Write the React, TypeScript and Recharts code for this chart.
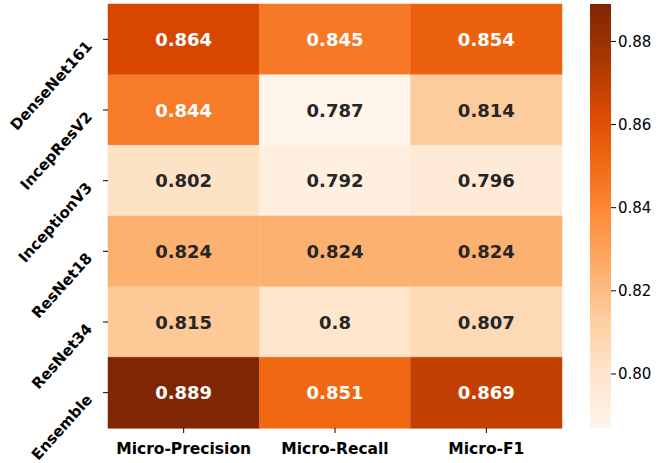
import { BarChart, Bar, XAxis, YAxis, Cell, LabelList } from "recharts";

const models = ["DenseNet161", "IncepResV2", "InceptionV3", "ResNet18", "ResNet34", "Ensemble"];
const metrics = ["Micro-Precision", "Micro-Recall", "Micro-F1"];
const precision = [0.864, 0.844, 0.802, 0.824, 0.815, 0.889];
const recall = [0.845, 0.787, 0.792, 0.824, 0.8, 0.851];
const f1 = [0.854, 0.814, 0.796, 0.824, 0.807, 0.869];
const colorbarTicks = [0.8, 0.82, 0.84, 0.86, 0.88];

// matplotlib "Oranges"
const ORANGES = ["#fff5eb", "#fee6ce", "#fdd0a2", "#fdae6b", "#fd8d3c", "#f16913", "#d94801", "#a63603", "#7f2704"];
const FONT = "DejaVu Sans";

const allValues = [...precision, ...recall, ...f1];
const vmin = Math.min(...allValues);
const vmax = Math.max(...allValues);

const hexToRgb = (h: string) => [1, 3, 5].map((i) => parseInt(h.slice(i, i + 2), 16));

const colorFor = (v: number) => {
  const t = Math.max(0, Math.min(1, (v - vmin) / (vmax - vmin))) * (ORANGES.length - 1);
  const i = Math.min(Math.floor(t), ORANGES.length - 2);
  const f = t - i;
  const a = hexToRgb(ORANGES[i]);
  const b = hexToRgb(ORANGES[i + 1]);
  return a.map((c, k) => Math.round(c + (b[k] - c) * f));
};

const rgbStr = (c: number[]) => `rgb(${c[0]},${c[1]},${c[2]})`;

// same rule seaborn uses for annotation colour
const textColorFor = (v: number) => {
  const lin = colorFor(v).map((c) => {
    const s = c / 255;
    return s <= 0.03928 ? s / 12.92 : Math.pow((s + 0.055) / 1.055, 2.4);
  });
  const lum = 0.2126 * lin[0] + 0.7152 * lin[1] + 0.0722 * lin[2];
  return lum > 0.408 ? "#262626" : "#ffffff";
};

const data = models.map((m, i) => ({
  model: m,
  precision: precision[i],
  recall: recall[i],
  f1: f1[i],
}));

const series = ["precision", "recall", "f1"] as const;

const colorbarData = [{ name: "cbar", range: [vmin, vmax] }];

const CellLabel = (props: any) => {
  const { x, y, width, height, value } = props;
  return (
    <text
      x={x + width / 2}
      y={y + height / 2}
      textAnchor="middle"
      dominantBaseline="central"
      fontFamily={FONT}
      fontWeight="bold"
      fontSize={18}
      fill={textColorFor(value)}
    >
      {String(value)}
    </text>
  );
};

const ModelTick = (props: any) => {
  const { x, y, payload } = props;
  const px = x - 8;
  const py = y + 7.5;
  return (
    <text
      x={px}
      y={py}
      textAnchor="end"
      transform={`rotate(-48 ${px} ${py})`}
      fontFamily={FONT}
      fontWeight="bold"
      fontSize={15}
      fill="#000"
    >
      {payload.value}
    </text>
  );
};

const App = () => {
  return (
    <div style={{ position: "absolute", left: 0, top: 0, width: 657, height: 463, background: "#fff" }}>
      <svg width={0} height={0} style={{ position: "absolute" }}>
        <defs>
          <linearGradient id="orangesGrad" x1="0" y1="1" x2="0" y2="0">
            {ORANGES.map((c, i) => (
              <stop key={c} offset={`${(i / (ORANGES.length - 1)) * 100}%`} stopColor={c} />
            ))}
          </linearGradient>
        </defs>
      </svg>

      <div style={{ position: "absolute", left: 0, top: 0 }}>
        <BarChart
          width={570}
          height={463}
          data={data}
          layout="vertical"
          barCategoryGap={0}
          margin={{ top: 4, right: 8, bottom: 0, left: 0 }}
        >
          <XAxis
            type="number"
            domain={[0, 3]}
            ticks={[0.5, 1.5, 2.5]}
            tickFormatter={(v: number) => metrics[Math.floor(v)]}
            axisLine={false}
            tickSize={5}
            tickMargin={10}
            tickLine={{ stroke: "#000" }}
            height={35}
            tick={{ fontFamily: FONT, fontWeight: "bold", fontSize: 15.5, fill: "#000" }}
          />
          <YAxis
            type="category"
            dataKey="model"
            width={108}
            axisLine={false}
            tickSize={5}
            tickLine={{ stroke: "#000" }}
            tick={<ModelTick />}
          />
          {series.map((key) => (
            <Bar key={key} dataKey={() => 1} stackId="cells" isAnimationActive={false}>
              {data.map((row, i) => (
                <Cell key={`${key}-${i}`} fill={rgbStr(colorFor(row[key]))} stroke={rgbStr(colorFor(row[key]))} strokeWidth={0.5} />
              ))}
              <LabelList dataKey={key} content={<CellLabel />} />
            </Bar>
          ))}
        </BarChart>
      </div>

      <div style={{ position: "absolute", left: 580, top: 0 }}>
        <BarChart
          width={77}
          height={463}
          data={colorbarData}
          barCategoryGap={0}
          margin={{ top: 4, right: 0, bottom: 35, left: 10 }}
        >
          <XAxis type="category" dataKey="name" hide />
          <YAxis
            type="number"
            orientation="right"
            domain={[vmin, vmax]}
            allowDataOverflow
            ticks={colorbarTicks}
            tickFormatter={(v: number) => v.toFixed(2)}
            width={46}
            axisLine={false}
            tickSize={5}
            tickLine={{ stroke: "#000" }}
            tick={{ fontFamily: FONT, fontSize: 15, fill: "#000" }}
          />
          <Bar dataKey="range" fill="url(#orangesGrad)" isAnimationActive={false} />
        </BarChart>
      </div>
    </div>
  );
};

export default App;
